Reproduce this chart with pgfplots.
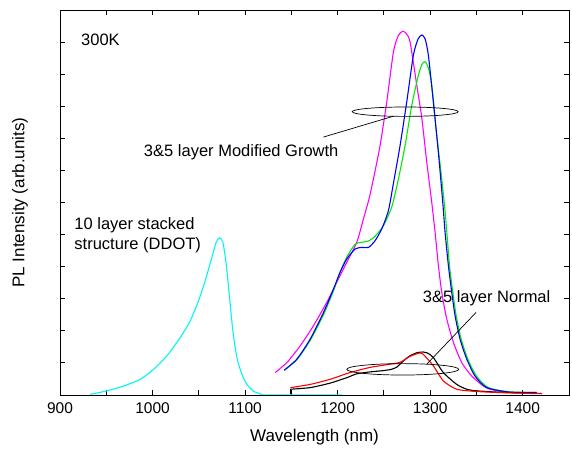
\documentclass[border=0pt]{standalone}
\usepackage{fontspec}
\setmainfont{Liberation Sans}
\usepackage{pgfplots}
\pgfplotsset{compat=1.18}
\definecolor{cmag}{RGB}{255,0,255}
\definecolor{cblue}{RGB}{0,0,255}
\definecolor{cgreen}{RGB}{0,235,0}
\definecolor{ccyan}{RGB}{0,245,245}
\definecolor{cred}{RGB}{255,0,0}

\begin{document}
\begin{tikzpicture}
\begin{axis}[
    name=pl,
    scale only axis,
    width=509pt, height=385pt,
    xmin=900, xmax=1450, ymin=0, ymax=12,
    xtick={900,1000,...,1400},
    minor xtick={950,1050,...,1350},
    ytick={1,...,11}, yticklabels={},
    tick align=inside,
    major tick length=5pt, minor tick length=5pt,
    tick style={black, line width=0.9pt},
    axis line style={line width=0.9pt},
    /pgf/number format/1000 sep={},
    xticklabel style={font=\fontsize{15.5}{18}\selectfont,
        /pgf/number format/assume math mode=true, yshift=-4pt},
    xlabel={Wavelength (nm)},
    ylabel={PL Intensity (arb.units)},
    label style={font=\fontsize{17}{20}\selectfont},
    xlabel style={at={(axis description cs:0.5,-0.110)}, anchor=center},
    ylabel style={at={(axis description cs:-0.0786,0.5)}, anchor=center},
    every axis plot/.append style={line width=1.1pt, mark=none, smooth, tension=0.4},
]
% 10 layer stacked (DDOT)
\addplot[ccyan] coordinates {
  (932.7,0.02) (950.8,0.13) (968.7,0.28) (986.7,0.49) (1001.1,0.80)
  (1015.5,1.22) (1029.9,1.79) (1040.7,2.31) (1049.7,2.94) (1056.9,3.56)
  (1064.1,4.29) (1068.8,4.76) (1072.4,4.90) (1076,4.76) (1079.6,4.08)
  (1083.2,3.04) (1086.8,2.0) (1091.1,1.17) (1096.5,0.65) (1101.9,0.33)
  (1109.1,0.12) (1118.1,0.02) (1124,0.0) (1205,0.0)
};
% modified growth, magenta
\addplot[cmag] coordinates {
  (1132.5,0.70) (1145.1,1.01) (1159.5,1.53) (1173.9,2.16) (1188.3,2.89)
  (1199.1,3.51) (1209.9,4.14) (1220.7,4.76) (1227.9,5.49) (1234,6.12)
  (1238.7,6.74) (1245.9,7.78) (1253.1,9.14) (1260.3,10.7) (1265.5,11.2)
  (1270.4,11.34) (1274.5,11.25) (1278.3,11.0) (1285.5,9.66) (1291,8.62)
  (1296.3,7.26) (1301.7,6.0) (1305.3,5.07) (1308.9,4.03) (1312.5,3.2)
  (1317.9,2.37) (1325.1,1.64) (1334.1,1.01) (1344.9,0.59) (1357.5,0.28)
  (1364.7,0.18) (1380,0.10) (1410,0.06)
};
% modified growth, green
\addplot[cgreen] coordinates {
  (1142.2,0.77) (1156,1.10) (1170.3,1.70) (1184.7,2.50) (1195.5,3.25)
  (1202.7,3.83) (1209.9,4.30) (1218.9,4.70) (1226.1,4.76) (1233.3,4.80)
  (1240.5,4.95) (1249.5,5.28) (1258.5,5.86) (1265.7,6.74) (1272.9,7.78)
  (1280.1,9.03) (1287.3,9.97) (1291,10.3) (1294.5,10.39) (1298,10.2)
  (1301.7,9.66) (1307.1,8.09) (1312.5,6.74) (1316.5,5.6) (1320.9,4.03)
  (1324.5,3.2) (1328.1,2.47) (1333.5,1.74) (1340.7,1.12) (1350,0.59)
  (1363,0.23) (1385,0.10) (1415,0.08)
};
% modified growth, blue
\addplot[cblue] coordinates {
  (1142.2,0.77) (1156,1.12) (1170.3,1.74) (1184.7,2.57) (1195.5,3.30)
  (1202.7,3.83) (1209.9,4.24) (1218.9,4.55) (1226.1,4.60) (1233.3,4.60)
  (1240.5,4.81) (1247.7,5.18) (1254.9,5.75) (1260.3,6.60) (1267.5,7.78)
  (1274.7,9.14) (1281.9,10.6) (1287,11.1) (1291,11.22) (1294.5,11.1)
  (1298,10.6) (1303.4,9.14) (1308.8,7.58) (1313.6,6.0) (1316.1,5.07)
  (1319.7,4.03) (1323.3,3.2) (1326.9,2.47) (1332.3,1.74) (1339.5,1.12)
  (1348.5,0.59) (1361.1,0.23) (1386,0.09) (1415,0.08)
};
% normal, black
\addplot[black, sharp plot] coordinates {
  (1149,0.02) (1149,0.18)
};
\addplot[black] coordinates {
  (1149,0.18) (1170.3,0.23) (1191.9,0.37) (1209.9,0.54)
  (1220.7,0.66) (1235.1,0.72) (1249.5,0.76) (1258,0.80) (1264,0.87)
  (1271,1.06) (1278,1.22) (1286,1.32) (1292.7,1.34) (1297,1.31) (1303.4,1.17)
  (1314.2,0.70) (1328.7,0.33) (1339.5,0.18) (1350,0.13) (1380,0.08)
  (1420,0.05)
};
% normal, red
\addplot[cred] coordinates {
  (1149,0.23) (1170.3,0.33) (1191.9,0.49) (1213.5,0.70) (1235.1,0.86)
  (1256.7,0.96) (1267.5,1.02) (1278,1.20) (1287.3,1.30) (1292,1.28)
  (1303.4,0.91) (1314.2,0.44) (1328.7,0.18) (1350,0.11) (1380,0.07)
  (1421,0.04)
};
% annotations
\draw[line width=0.7pt] (axis cs:1273,8.83) ellipse [x radius=53pt, y radius=4.7pt];
\draw[line width=0.7pt] (axis cs:1260.3,8.69) -- (axis cs:1184.7,8.04);
\node[font=\fontsize{16.5}{19}\selectfont] at (axis cs:1095.8,7.58)
  {3\&5 layer Modified Growth};
\draw[line width=0.7pt] (axis cs:1270.4,0.80) ellipse [x radius=56pt, y radius=5.7pt];
\draw[line width=0.7pt] (axis cs:1296.3,0.96) -- (axis cs:1349.6,2.575);
\node[font=\fontsize{16.5}{19}\selectfont] at (axis cs:1361,3.02)
  {3\&5 layer Normal};
\node[font=\fontsize{16.5}{20}\selectfont, anchor=west, align=left, inner sep=0pt]
  at (axis cs:915.4,4.99) {10 layer stacked\\structure (DDOT)};
\node[font=\fontsize{16.5}{19}\selectfont, anchor=west, inner sep=0pt]
  at (axis cs:922.7,11.06) {300K};
\end{axis}
\path ([xshift=-60pt,yshift=-56.3pt]pl.south west)
  rectangle ([xshift=3pt,yshift=10pt]pl.north east);
\end{tikzpicture}
\end{document}
